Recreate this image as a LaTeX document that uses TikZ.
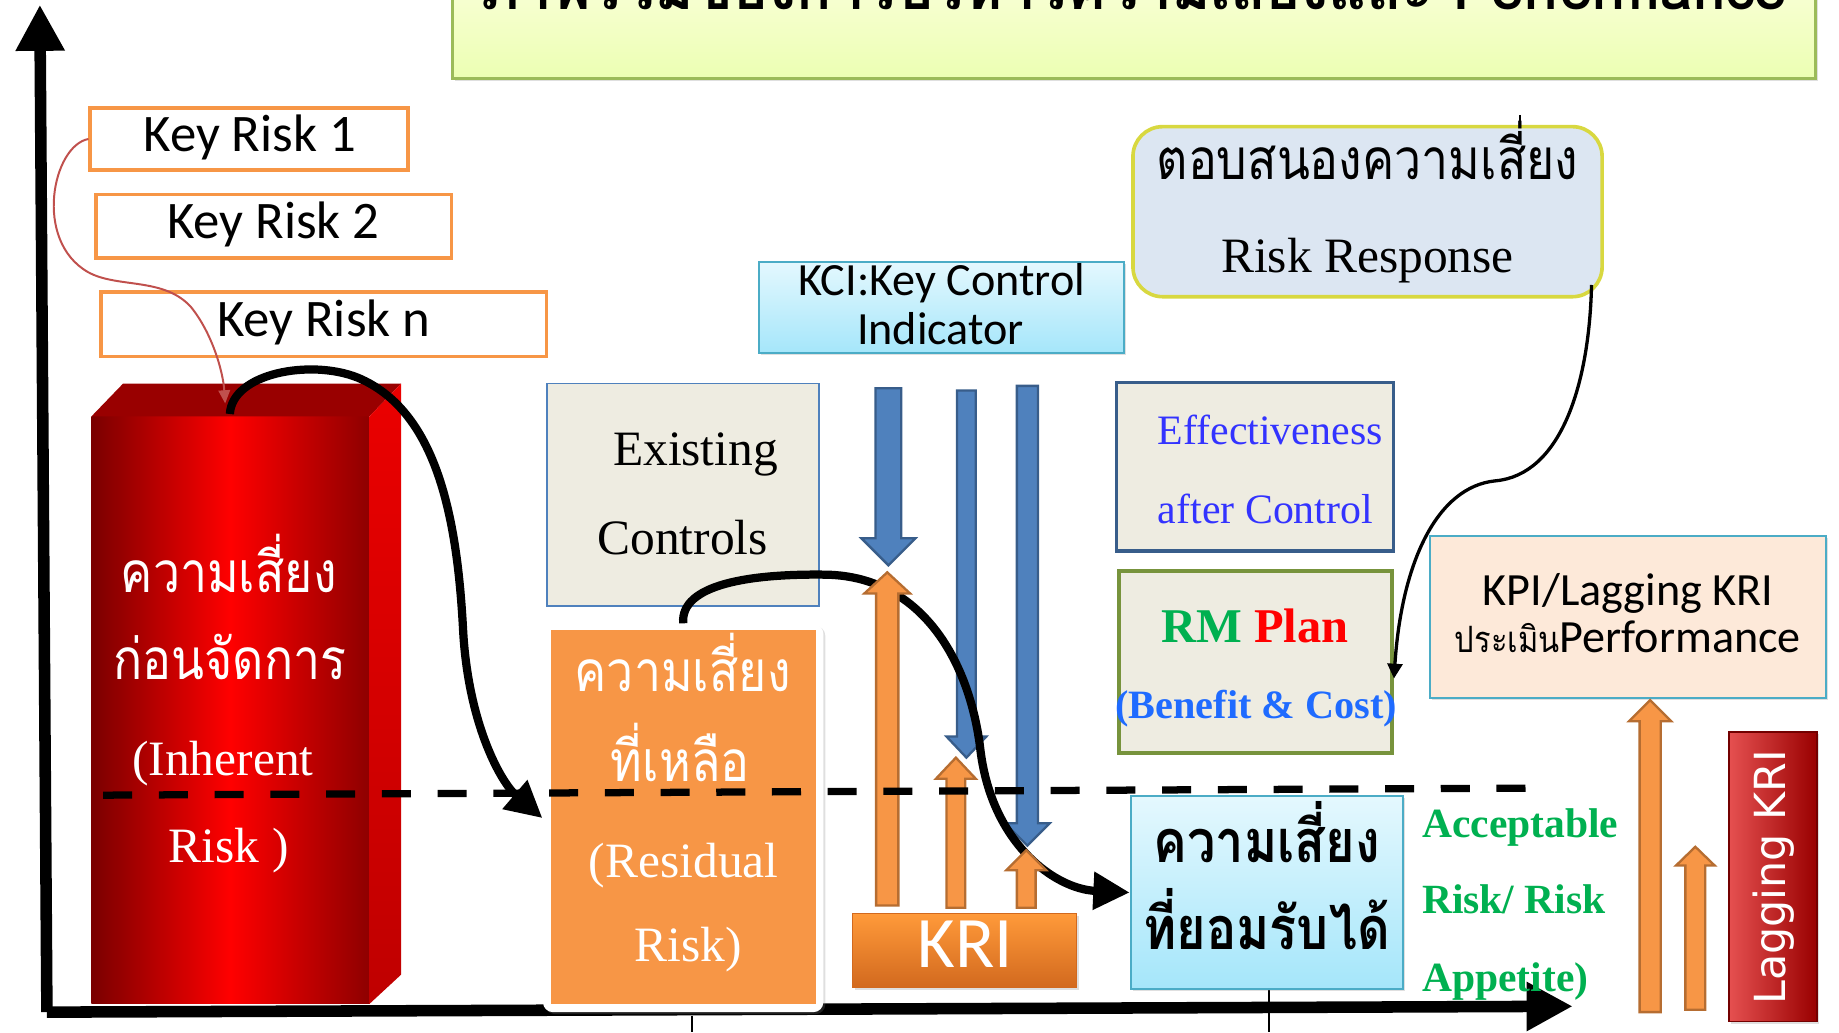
\documentclass[tikz,border=0pt]{standalone}
\usepackage{fontspec}
\setmainfont{Liberation Serif}
\newfontfamily\thaifont[Script=Thai,FakeStretch=0.85]{Loma}
\newfontfamily\thaisans[Script=Thai]{Loma}
\newfontfamily\calfont{Carlito}
\newfontfamily\dvfont{DejaVu Sans}
\usetikzlibrary{arrows.meta,fit,shadows}

\definecolor{kborange}{HTML}{F79646}
\definecolor{kbdark}{HTML}{B66D31}
\definecolor{accblue}{HTML}{4F81BD}
\definecolor{accdark}{HTML}{385D8A}
\definecolor{aqua}{HTML}{4BACC6}
\definecolor{paper}{HTML}{EEECE1}
\definecolor{olivegreen}{HTML}{77933C}
\definecolor{okgreen}{HTML}{00B050}
\definecolor{linkblue}{HTML}{3333FF}
\definecolor{costblue}{HTML}{1F6BFF}
\definecolor{peach}{HTML}{FDE9D9}
\definecolor{respfill}{HTML}{DCE6F2}
\definecolor{respline}{HTML}{D8D840}
\definecolor{titlegreen}{HTML}{9BBB59}
\definecolor{curvered}{HTML}{C0504D}
\definecolor{sky1}{HTML}{E4F8FE}
\definecolor{sky2}{HTML}{A5E6FA}
\definecolor{blockdark}{HTML}{7A0000}
\definecolor{blocktop}{HTML}{990000}
\definecolor{krilight}{HTML}{FF9A3A}
\definecolor{kridark}{HTML}{D2691E}

\tikzset{arrow/.style={line width=2.5pt, -{Triangle[length=11pt,width=11pt]}}}
\tikzset{thin-arrow/.style={line width=1pt, -{Triangle[length=4.5pt,width=4.5pt]}}}
\tikzset{axis/.style={line width=3.5pt, -{Triangle[length=14pt,width=14pt]}}}
\tikzset{keybox/.style={draw=kborange, line width=1.1pt, fill=white, inner sep=0pt}}
\tikzset{paperbox/.style={fill=paper, inner sep=0pt}}
\tikzset{skybox/.style={draw=aqua, line width=0.6pt, top color=sky1, bottom color=sky2, inner sep=0pt}}
\tikzset{shade-box/.style={drop shadow={opacity=0.25, shadow xshift=0.6pt, shadow yshift=-0.6pt}}}
\tikzset{bluedown/.style={fill=accblue, draw=accdark, line width=0.7pt}}
\tikzset{orangeup/.style={fill=kborange, draw=kbdark, line width=0.7pt}}
\tikzset{txt/.style={anchor=base, inner sep=0pt}}

\newcommand{\blockarrow}[7]{%
  \draw[#1] ({#2-#6},#3) -- ({#2-#6},#4) -- ({#2-#7},#4) -- (#2,#5)
    -- ({#2+#7},#4) -- ({#2+#6},#4) -- ({#2+#6},#3) -- cycle;}
\newcommand{\fs}[1]{\fontsize{#1}{#1}\selectfont}

\begin{document}
\begin{tikzpicture}[x=0.125mm, y=-0.125mm]
  \useasboundingbox (0,0) rectangle (1568,880);
  \clip (0,0) rectangle (1568,880);

  \node[shade-box, draw=titlegreen, line width=0.8pt, top color=green!8!yellow!12, bottom color=green!25!yellow!30,
        inner sep=0pt, fit={(386,-40) (1548,67)}] (title) {};
  \node[txt, font=\thaisans\bfseries\fs{17.7}] (titletext) at (967,8) {ภาพรวมของการบริหารความเสี่ยงและ Performance};

  \coordinate (o) at (40,863);
  \coordinate (ytop) at (34,4);
  \coordinate (xend) at (1341,858);
  \draw[axis] (o) -- (ytop);
  \draw[axis] (o) -- (xend);
  \draw[thin] (590,866) -- (590,880);
  \draw[thin] (1082,843) -- (1082,880);
  \draw[thin] (1296,98) -- (1296,109);

  \node[keybox, fit={(77,92) (348,145)}] (kr1) {};
  \node[keybox, fit={(82,166) (385,220)}] (kr2) {};
  \node[keybox, fit={(86,249) (466,304)}] (krn) {};

  \shade[left color=blockdark, right color=blockdark!85!red, middle color=red] (78,355) rectangle (315,856);
  \fill[blocktop] (78,355) -- (105,327) -- (342,327) -- (315,355) -- cycle;
  \shade[top color=red!92!black, bottom color=red!75!black] (315,355) -- (342,327) -- (342,831) -- (315,856) -- cycle;
  \coordinate (irtop) at (192,344);
  \coordinate (irstart) at (196,353);
  \draw[curvered, line width=0.6pt, -{Triangle[length=4pt,width=3.5pt]}] (kr1.west)
    .. controls (45,124) and (28,205) .. (75,232) .. controls (100,246) and (140,236) .. (163,262)
    .. controls (180,283) and (190,315) .. (irtop);

  \node[paperbox, draw=accblue, line width=0.6pt, fit={(466,327) (698,517)}] (ec) {};
  \node[shade-box, fill=white, rounded corners=3pt, inner sep=0pt, fit={(463,532) (702,863)}] (rr) {};
  \fill[kborange] (470,537) rectangle (696,856);
  \node[skybox, shade-box, fit={(647,223) (958,301)}] (kci) {};
  \node[paperbox, draw=accdark, line width=1.1pt, fit={(952,326) (1188,470)}] (eff) {};
  \node[paperbox, draw=olivegreen, line width=1.1pt, fit={(954,487) (1187,642)}] (rm) {};
  \node[fill=respfill, draw=respline, line width=1.1pt, rounded corners=9pt, inner sep=0pt,
        fit={(966,108) (1366,253)}] (resp) {};
  \node[fill=peach, draw=aqua, line width=0.7pt, shade-box, inner sep=0pt, fit={(1219,457) (1557,595)}] (kpi) {};
  \node[skybox, shade-box, fit={(964,679) (1196,843)}] (acc) {};
  \node[shade-box, top color=krilight, bottom color=kridark, draw=kridark, line width=0.4pt,
        inner sep=0pt, fit={(727,779) (918,842)}] (kri) {};
  \node[shade-box, left color=red!65!white!90!black, right color=red!60!black, draw=red!45!black, line width=0.5pt,
        inner sep=0pt, fit={(1474,624) (1549,871)}] (lag) {};

  \foreach \x/\t/\b/\p/\s/\h in {757.5/331/459/482/11/23, 824/333/628/646/8/17, 876/329/702/721/9/19}
    {\blockarrow{bluedown}{\x}{\t}{\b}{\p}{\s}{\h}}
  \draw[arrow] (rr.north) .. controls (580,498) and (640,489) .. (705,490)
    .. controls (790,492) and (828,570) .. (836,640) .. controls (846,720) and (900,758) .. (acc.west);
  \foreach \x/\t/\b/\p/\s/\h in {756.5/772/506/488/9.5/19.5, 815/774/664/646/8/17, 875/774/742/725/8/17,
                                 1407/863/615/597/9/18, 1445.5/861/738/722/8.5/16.5}
    {\blockarrow{orangeup}{\x}{\t}{\b}{\p}{\s}{\h}}

  \coordinate (d1) at (88,678);
  \coordinate (d2) at (1304,672);
  \draw[line width=2.2pt, dash pattern=on 8.8pt off 8.1pt] (d1) -- (d2);

  \draw[arrow] (irstart) .. controls (198,318) and (265,306) .. (305,322)
    .. controls (372,350) and (390,440) .. (395,540) .. controls (400,620) and (428,668) .. (rr.west);
  \coordinate (respout) at (1357,243);
  \draw[thin-arrow] (respout) .. controls (1355,330) and (1330,405) .. (1275,410)
    .. controls (1225,415) and (1195,480) .. ([yshift=-5pt]rm.east);

  \node[txt, font=\calfont\fs{16}] (kr1t) at (213,129) {Key Risk 1};
  \node[txt, font=\calfont\fs{16}] (kr2t) at (233,203) {Key Risk 2};
  \node[txt, font=\calfont\fs{16}] (krnt) at (276,287) {Key Risk n};

  \node[txt, text=white, font=\thaifont\fs{17.2}] (ir1) at (195,505) {ความเสี่ยง};
  \node[txt, text=white, font=\thaifont\fs{17.2}] (ir2) at (196,579) {ก่อนจัดการ};
  \node[txt, text=white, font=\fs{15}] (ir3) at (190,661) {(Inherent};
  \node[txt, text=white, font=\fs{15}] (ir4) at (195,735) {Risk )};

  \node[txt, font=\fs{15}] (ec1) at (593,397) {Existing};
  \node[txt, font=\fs{15}] (ec2) at (582,473) {Controls};

  \node[txt, text=white, font=\thaifont\fs{17.2}] (rr1) at (582,590) {ความเสี่ยง};
  \node[txt, text=white, font=\thaifont\fs{17.2}] (rr2) at (580,666) {ที่เหลือ};
  \node[txt, text=white, font=\fs{15}] (rr3) at (583,748) {(Residual};
  \node[txt, text=white, font=\fs{15}] (rr4) at (587,820) {Risk)};

  \node[txt, font=\calfont\fs{14}] (kci1) at (803,252) {KCI:Key Control};
  \node[txt, font=\calfont\fs{14}] (kci2) at (802,294) {Indicator};
  \node[txt, text=white, font=\calfont\fs{22}] (krit) at (823,825) {KRI};

  \node[txt, text=linkblue, font=\fs{12.7}] (eff1) at (1083,379) {Effectiveness};
  \node[txt, text=linkblue, font=\fs{12.7}] (eff2) at (1079,446) {after Control};
  \node[txt, font=\bfseries\fs{14.7}] (rm1) at (1070,548) {\textcolor{okgreen}{RM} \textcolor{red}{Plan}};
  \node[txt, text=costblue, font=\bfseries\fs{12.2}] (rm2) at (1071,613) {(Benefit \& Cost)};

  \node[txt, font=\thaifont\fs{17.2}] (resp1) at (1166,153) {ตอบสนองความเสี่ยง};
  \node[txt, font=\fs{15}] (resp2) at (1166,232) {Risk Response};

  \node[txt, font=\calfont\fs{14}] (kpi1) at (1388,516) {KPI/Lagging KRI};
  \node[txt, font=\calfont\fs{14}] (kpi2) at (1388,556) {{\thaifont\fs{11}ประเมิน}Performance};

  \node[txt, font=\thaifont\bfseries\fs{18}] (acc1) at (1080,735) {ความเสี่ยง};
  \node[txt, font=\thaifont\bfseries\fs{18}] (acc2) at (1080,810) {ที่ยอมรับได้};
  \node[txt, anchor=base west, text=okgreen, font=\bfseries\fs{12.6}] (ok1) at (1212,714) {Acceptable};
  \node[txt, anchor=base west, text=okgreen, font=\bfseries\fs{12.6}] (ok2) at (1212,779) {Risk/ Risk};
  \node[txt, anchor=base west, text=okgreen, font=\bfseries\fs{12.6}] (ok3) at (1212,845) {Appetite)};

  \node[rotate=90, text=white, font=\dvfont\fs{13}] (lagt) at (1512,748) {Lagging KRI};
\end{tikzpicture}
\end{document}
